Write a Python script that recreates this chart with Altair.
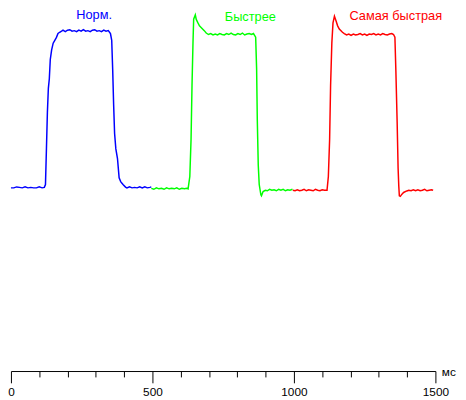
import altair as alt
import pandas as pd

series_names = ["Норм.", "Быстрее", "Самая быстрая"]
series_colors = ["#0000ff", "#00ff00", "#ff0000"]

blue_ms = [0, 10, 20, 30, 40, 50, 60, 70, 80, 90, 100, 110, 118,
           122, 125.4, 128.8, 132.2, 135.6, 139, 143.8, 149.2, 155, 160.8, 166.3, 172.1, 178.9,
           184, 192, 200, 208, 216, 224, 232, 240, 248, 256, 264, 272, 280, 288, 296, 304, 312, 320, 328, 336, 344,
           351.7, 356.1, 359.5, 362.9, 366.3, 370.7, 376.5, 382.3, 387.8, 396, 404.8,
           410, 419, 428, 437, 446, 455, 464, 473, 482, 491, 496]
blue_v = [190.5, 190.5, 191.5, 191, 190.5, 191.5, 190.5, 191, 190.5, 190.5, 191.5, 190.5, 191,
          194, 231, 269, 294, 304, 324, 334, 341, 344, 347, 351, 352.3, 353.5,
          354.5, 353, 354.5, 355, 353.5, 354, 353, 354.5, 353.5, 355, 353.5, 354, 353, 354.5, 355, 353.5, 354, 353, 354.5, 353.5, 354,
          351, 344, 314, 277, 247, 231, 221, 201, 197, 194, 191.3,
          190.5, 191.5, 190.5, 191, 190.5, 191.5, 190.5, 191.5, 190.5, 191, 191.5]

green_ms = [496, 505, 514, 523, 532, 541, 550, 559, 568, 577, 586, 595, 604, 613, 622, 626,
            632.1, 636.5, 639.9, 643.3, 645.7, 651.5, 654.9, 660.4, 666.2, 672, 683.2,
            690, 698, 706, 714, 722, 730, 738, 746, 754, 762, 770, 778, 786, 794, 802, 810, 818, 826, 834, 842, 850, 857,
            864.8, 868.2, 870.6, 874, 877.4, 883.2, 885.3, 891.1, 898.9,
            906, 914, 922, 930, 938, 946, 954, 962, 970, 978, 986, 995]
green_v = [190, 189, 190.5, 189.5, 190, 189, 190.5, 189.5, 190, 189.5, 190.5, 189, 190, 189.5, 190, 189.5,
           202.3, 241, 297.3, 341, 366, 370.5, 365.7, 362.3, 359, 357.3, 354,
           351.5, 350, 351, 349.5, 350.5, 349.5, 351, 350, 349.5, 351, 350, 351.5, 350, 349.5, 351, 350, 351.5, 349.5, 350.5, 351, 350, 351,
           347.3, 314, 261, 214, 194, 183.3, 182.3, 186.7, 188,
           187.5, 189, 188, 188.5, 187.5, 189, 188, 189, 187.5, 188.5, 188, 189]

red_ms = [996, 1004, 1012, 1020, 1028, 1036, 1044, 1052, 1060, 1068, 1076, 1084, 1092, 1100, 1108, 1117,
          1121.7, 1126.2, 1129.6, 1134, 1138.1, 1143.2, 1149, 1154.5, 1160.3, 1171.5,
          1178, 1186, 1194, 1202, 1210, 1218, 1226, 1234, 1242, 1250, 1258, 1266, 1274, 1282, 1290, 1298,
          1306, 1314, 1322, 1330, 1338, 1346, 1352,
          1356.9, 1360.3, 1364.8, 1368.2, 1370.6, 1372.6, 1376, 1381.8, 1387.6, 1398.9,
          1406, 1414, 1422, 1430, 1438, 1446, 1454, 1462, 1470, 1478, 1486, 1492]
red_v = [188, 187.5, 188.5, 187.5, 188, 189, 187.5, 188.5, 188, 187.5, 189, 188, 187.5, 188.5, 188, 188,
         202.3, 241, 297, 341, 362, 369, 364, 359, 355.7, 352.3,
         351, 349.5, 350.5, 349, 350.5, 349.5, 350, 351, 349.5, 350.5, 349, 350.5, 350, 351, 349.5, 350.5,
         349.5, 351, 350, 349.5, 350.5, 351, 350,
         347.3, 312.3, 259, 211, 192.3, 182.3, 181.7, 184, 185.7, 187.3,
         188, 187.5, 188.5, 187.5, 188.5, 187.5, 188, 189, 187.5, 188, 188.5, 188]

label_ms = [294, 846, 1360]
label_v = [370.5, 368.5, 369.5]

x_tick_values = list(range(0, 1501, 100))

rows = []
for name, ms, vals in zip(series_names, [blue_ms, green_ms, red_ms], [blue_v, green_v, red_v]):
    assert len(ms) == len(vals), name
    for i, (t, v) in enumerate(zip(ms, vals)):
        rows.append({"series": name, "t": t, "v": v, "i": i})
df = pd.DataFrame(rows)
labels = pd.DataFrame({"series": series_names, "t": label_ms, "v": label_v})

W, H = 432, 366
x_scale = alt.Scale(domain=[0, 1500], nice=False, zero=False)
y_scale = alt.Scale(domain=[0, 374], nice=False, zero=False)
color_scale = alt.Scale(domain=series_names, range=series_colors)


def make_x_axis():
    return alt.Axis(
        values=x_tick_values,
        format="d",
        labelExpr="datum.value % 500 === 0 ? datum.label : ''",
        labelOverlap=False,
        labelFlush=False,
        tickSize={"condition": {"test": "datum.value % 500 === 0", "value": 12}, "value": 6},
        tickColor="black", tickWidth=1,
        domainColor="black", domainWidth=1,
        labelColor="black", labelFont="Liberation Sans", labelFontSize=12, labelPadding=4,
        grid=False,
        title="мс", titleFont="Liberation Sans", titleFontSize=12, titleFontWeight="normal",
        titleColor="black", titleAlign="left", titleBaseline="middle",
        titleX=W + 6, titleY=1, titleAngle=0,
    )


lines = alt.Chart(df).mark_line(strokeWidth=1.5, interpolate="linear").encode(
    x=alt.X("t:Q", scale=x_scale, axis=make_x_axis()),
    y=alt.Y("v:Q", scale=y_scale, axis=None),
    color=alt.Color("series:N", scale=color_scale, legend=None),
    order=alt.Order("i:Q"),
)

texts = alt.Chart(labels).mark_text(
    font="Liberation Sans", fontSize=13, align="center", baseline="middle"
).encode(
    x=alt.X("t:Q", scale=x_scale, axis=make_x_axis()),
    y=alt.Y("v:Q", scale=y_scale, axis=None),
    text="series:N",
    color=alt.Color("series:N", scale=color_scale, legend=None),
)

chart = alt.layer(lines, texts).properties(
    width=W, height=H,
    autosize=alt.AutoSizeParams(type="none"),
    padding={"left": 3, "top": 0, "right": 23, "bottom": 26},
    background="white",
).configure_view(stroke=None)

chart.save("out.html", embed_options={"renderer": "svg", "actions": False})
